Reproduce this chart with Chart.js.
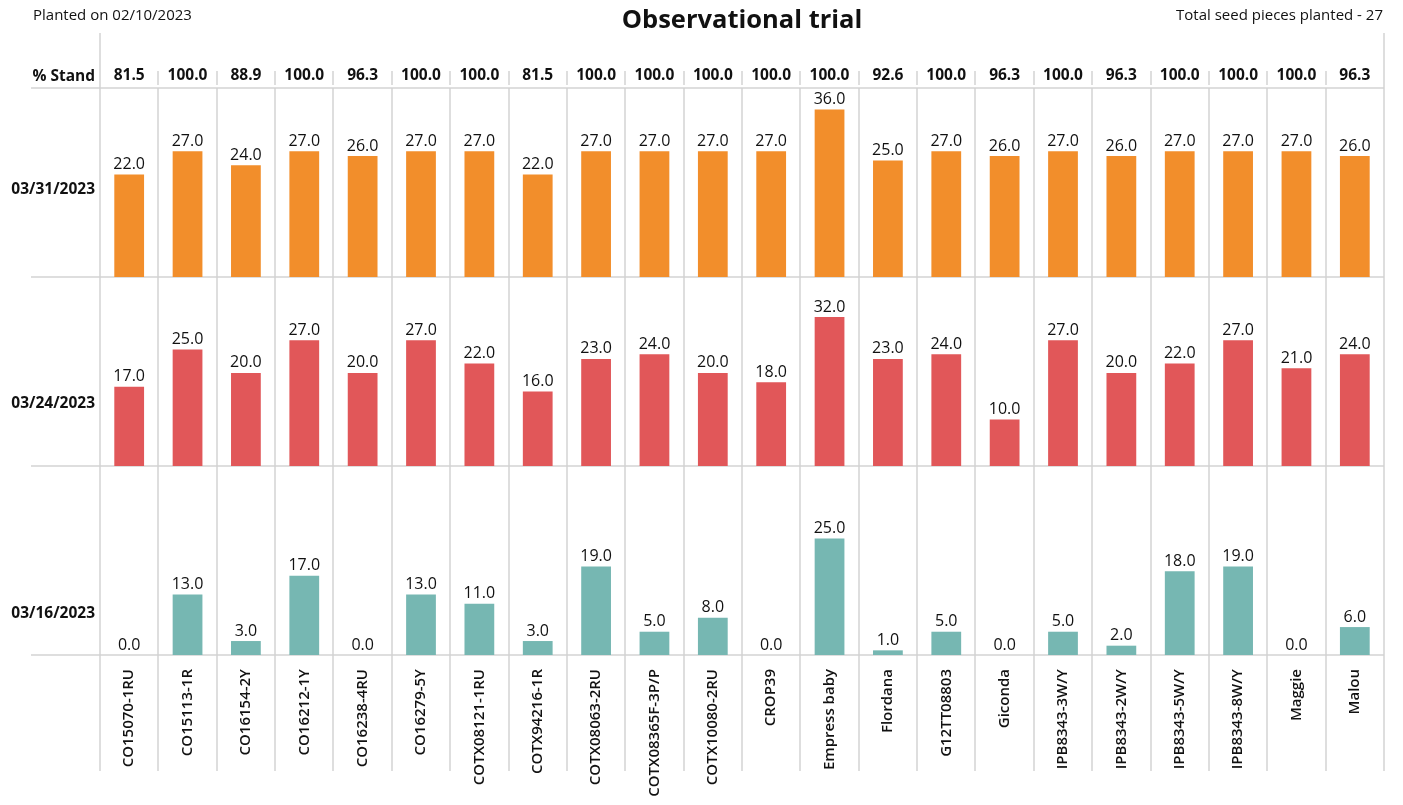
<!DOCTYPE html>
<html>
<head>
<meta charset="utf-8">
<title>Observational trial</title>
<script src="https://cdn.jsdelivr.net/npm/chart.js@4.4.0/dist/chart.umd.min.js"></script>
<style>
  html, body { margin: 0; padding: 0; background: #fff; }
</style>
</head>
<body>
<canvas id="chart" width="1403" height="805"></canvas>
<script>
const varieties = ["CO15070-1RU", "CO15113-1R", "CO16154-2Y", "CO16212-1Y", "CO16238-4RU", "CO16279-5Y",
  "COTX08121-1RU", "COTX94216-1R", "COTX08063-2RU", "COTX08365F-3P/P", "COTX10080-2RU", "CROP39",
  "Empress baby", "Flordana", "G12TT08803", "Giconda", "IPB8343-3W/Y", "IPB8343-2W/Y", "IPB8343-5W/Y",
  "IPB8343-8W/Y", "Maggie", "Malou"];
const standPct = [81.5, 100, 88.9, 100, 96.3, 100, 100, 81.5, 100, 100, 100, 100, 100, 92.6, 100, 96.3, 100, 96.3, 100, 100, 100, 96.3];
const countMar31 = [22, 27, 24, 27, 26, 27, 27, 22, 27, 27, 27, 27, 36, 25, 27, 26, 27, 26, 27, 27, 27, 26];
const countMar24 = [17, 25, 20, 27, 20, 27, 22, 16, 23, 24, 20, 18, 32, 23, 24, 10, 27, 20, 22, 27, 21, 24];
const countMar16 = [0, 13, 3, 17, 0, 13, 11, 3, 19, 5, 8, 0, 25, 1, 5, 0, 5, 2, 18, 19, 0, 6];
const rowDates = ["03/31/2023", "03/24/2023", "03/16/2023"];

const FONT = "'Open Sans', sans-serif";
const GRID = '#d3d3d3';
const TEXT = '#111';

// frame lines: column separators and row separators
const frame = {
  id: 'frame',
  beforeDatasetsDraw(chart) {
    const {ctx, chartArea, scales} = chart;
    const x = scales.x;
    const step = x.getPixelForValue(1) - x.getPixelForValue(0);
    const first = x.getPixelForValue(0) - step / 2;
    ctx.save();
    ctx.strokeStyle = GRID;
    ctx.lineWidth = 1.5;
    ctx.beginPath();
    for (let i = 0; i <= varieties.length; i++) {
      const px = Math.round(first + i * step);
      const outer = i === 0 || i === varieties.length;
      ctx.moveTo(px, outer ? 33 : chartArea.top);
      ctx.lineTo(px, 771);
      if (!outer) {
        ctx.moveTo(px, 71);
        ctx.lineTo(px, 85);
      }
    }
    [chartArea.top, scales.y1.bottom, scales.y2.bottom, scales.y3.bottom].forEach(y => {
      ctx.moveTo(31, Math.round(y));
      ctx.lineTo(chartArea.right, Math.round(y));
    });
    ctx.stroke();
    ctx.restore();
  }
};

const annotations = {
  id: 'annotations',
  afterDatasetsDraw(chart) {
    const {ctx, scales} = chart;
    ctx.save();
    ctx.fillStyle = TEXT;

    // bar values
    ctx.font = "16px " + FONT;
    ctx.textAlign = 'center';
    ctx.textBaseline = 'bottom';
    chart.data.datasets.forEach((ds, i) => {
      chart.getDatasetMeta(i).data.forEach((bar, j) => {
        ctx.fillText(ds.data[j].toFixed(1), bar.x, bar.y - 2);
      });
    });

    // % Stand row
    ctx.font = "bold 15.5px " + FONT;
    ctx.textBaseline = 'middle';
    standPct.forEach((v, j) => {
      ctx.fillText(v.toFixed(1), scales.x.getPixelForValue(j), 76);
    });
    ctx.textAlign = 'right';
    ctx.fillText("% Stand", 95, 77);
    ctx.fillText(rowDates[0], 95, 190);
    ctx.fillText(rowDates[1], 95, 404);
    ctx.fillText(rowDates[2], 95, 614);

    // header
    ctx.font = "15px " + FONT;
    ctx.textAlign = 'left';
    ctx.fillText("Planted on 02/10/2023", 33, 16);
    ctx.textAlign = 'right';
    ctx.fillText("Total seed pieces planted - 27", 1383, 16);
    ctx.font = "bold 25.5px " + FONT;
    ctx.textAlign = 'center';
    ctx.fillText("Observational trial", 742, 21);
    ctx.restore();
  }
};

const rowAxis = {
  type: 'linear',
  position: 'left',
  stack: 'rows',
  stackWeight: 1,
  min: 0,
  max: 40.6,
  ticks: {display: false},
  grid: {display: false},
  border: {display: false}
};

new Chart(document.getElementById('chart'), {
  type: 'bar',
  data: {
    labels: varieties,
    datasets: [
      {label: rowDates[0], data: countMar31, backgroundColor: '#F28E2B', yAxisID: 'y1'},
      {label: rowDates[1], data: countMar24, backgroundColor: '#E15759', yAxisID: 'y2'},
      {label: rowDates[2], data: countMar16, backgroundColor: '#76B7B2', yAxisID: 'y3'}
    ]
  },
  options: {
    responsive: false,
    animation: false,
    devicePixelRatio: 1,
    grouped: false,
    categoryPercentage: 1,
    barPercentage: 0.51,
    layout: {padding: {left: 92, right: 19, top: 88, bottom: 0}},
    plugins: {legend: {display: false}, tooltip: {enabled: false}},
    scales: {
      x: {
        grid: {display: false},
        border: {display: false},
        ticks: {
          autoSkip: false,
          minRotation: 90,
          maxRotation: 90,
          padding: 6,
          color: TEXT,
          font: {family: FONT, size: 15, weight: '600'}
        },
        afterFit: axis => { axis.height = 150; }
      },
      // stacked rows are laid out bottom-up
      y3: {...rowAxis},
      y2: {...rowAxis},
      y1: {...rowAxis}
    }
  },
  plugins: [frame, annotations]
});
</script>
</body>
</html>
